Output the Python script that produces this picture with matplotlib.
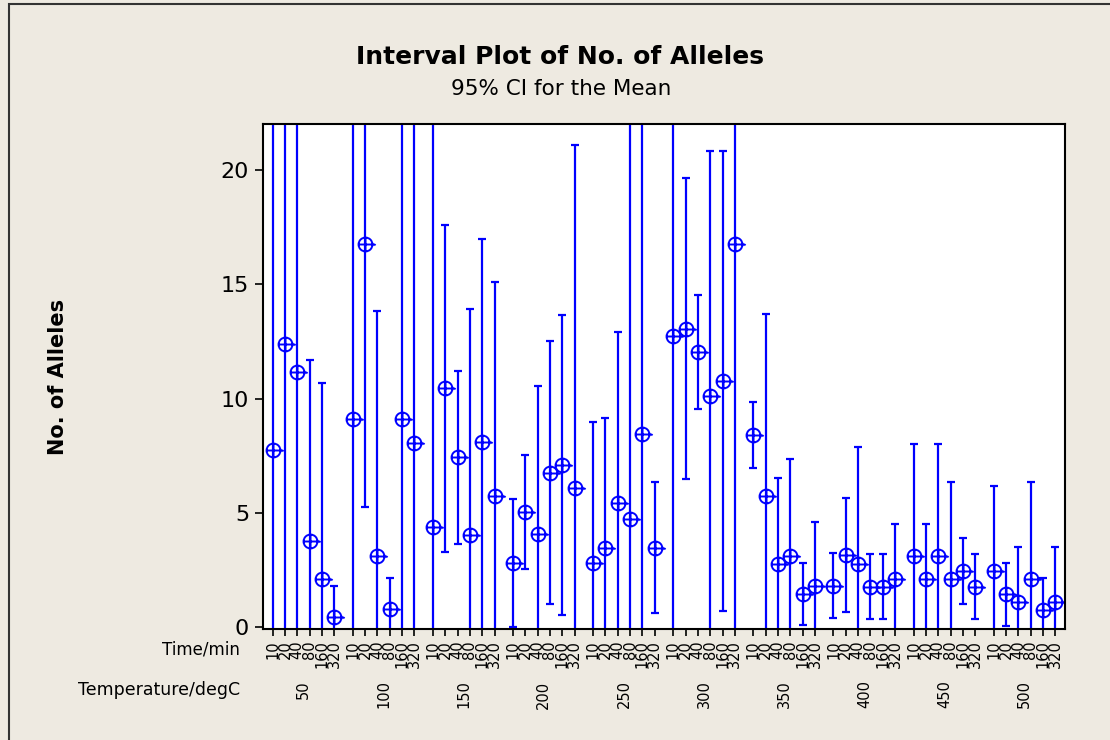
import numpy as np
import matplotlib
matplotlib.use('Agg')
import matplotlib.pyplot as plt
from matplotlib.path import Path
from matplotlib.patches import Rectangle

temperatures = [50, 100, 150, 200, 250, 300, 350, 400, 450, 500]
times = [10, 20, 40, 80, 160, 320]

# mean number of alleles, ordered by temperature then time
mean_alleles = [
    7.75, 12.39, 11.15, 3.79, 2.10, 0.44,
    9.11, 16.75, 3.13, 0.79, 9.11, 8.07,
    4.40, 10.45, 7.43, 4.04, 8.09, 5.74,
    2.80, 5.06, 4.07, 6.76, 7.10, 6.08,
    2.80, 3.48, 5.42, 4.74, 8.45, 3.48,
    12.74, 13.06, 12.05, 10.11, 10.78, 16.76,
    8.41, 5.74, 2.77, 3.12, 1.46, 1.81,
    1.81, 3.16, 2.75, 1.78, 1.78, 2.11,
    3.13, 2.11, 3.13, 2.11, 2.46, 1.78,
    2.46, 1.44, 1.09, 2.11, 0.76, 1.09,
]

# half width of the 95% CI
ci_half = [
    25, 25, 25, 7.90, 8.57, 1.38,
    25, 11.48, 10.71, 1.35, 25, 25,
    25, 7.15, 3.78, 9.89, 8.89, 9.37,
    2.80, 2.49, 6.50, 5.74, 6.57, 15.02,
    6.16, 5.66, 7.51, 25, 25, 2.86,
    25, 6.57, 2.49, 10.73, 10.06, 25,
    1.44, 7.96, 3.76, 4.25, 1.37, 2.78,
    1.42, 2.48, 5.13, 1.43, 1.43, 2.39,
    4.90, 2.39, 4.90, 4.24, 1.43, 1.43,
    3.73, 1.37, 2.41, 4.24, 1.41, 2.41,
]

blue = '#0000FF'
bg = '#EEEAE1'

# positions: 6 times per group, gap between temperature groups
group_step = 6.5
xpos = np.array([g * group_step + i for g in range(len(temperatures)) for i in range(len(times))])
time_labels = [str(t) for t in times] * len(temperatures)

# Minitab style circle-plus symbol
symbol = Path.make_compound_path(
    Path.unit_circle(),
    Path([(0, -1), (0, 1)]),
    Path([(-1, 0), (1.3, 0), (1.45, -0.12)]),
)

fig = plt.figure(figsize=(11.1, 7.4), dpi=100, facecolor=bg)
ax = fig.add_axes([263 / 1110, 1 - 629 / 740, 802 / 1110, 505 / 740])
ax.set_facecolor('white')

ax.errorbar(xpos, mean_alleles, yerr=ci_half, fmt='none', ecolor=blue,
            elinewidth=1.6, capsize=3, capthick=1.6)
ax.plot(xpos, mean_alleles, linestyle='none', marker=symbol, markersize=14.5,
        markeredgecolor=blue, markerfacecolor='none', markeredgewidth=1.4)

ax.set_xlim(-0.78, xpos[-1] + 0.78)
ax.set_ylim(-0.07, 22.0)
ax.set_yticks([0, 5, 10, 15, 20])
ax.tick_params(axis='y', labelsize=16, length=6, width=1.2, pad=4, direction='out')
ax.set_xticks(xpos)
ax.set_xticklabels(time_labels, rotation=90, fontsize=10.5)
ax.tick_params(axis='x', length=5, width=1.2, pad=3, direction='out')
for s in ax.spines.values():
    s.set_linewidth(1.5)

# temperature labels under each group
for g, temp in enumerate(temperatures):
    ax.annotate(str(temp), xy=(g * group_step + 2.5, 0), xycoords=('data', 'axes fraction'),
                xytext=(0, -37), textcoords='offset points', rotation=90,
                ha='center', va='top', fontsize=10.5)

fig.text(240 / 1110, 1 - 649 / 740, 'Time/min', ha='right', va='center', fontsize=12)
fig.text(240 / 1110, 1 - 690 / 740, 'Temperature/degC', ha='right', va='center', fontsize=12.5)

ax.set_ylabel('No. of Alleles', fontsize=15, fontweight='bold', labelpad=0)
ax.yaxis.set_label_coords(-(263 - 68) / 802, 0.5)

fig.text(560 / 1110, 1 - 57 / 740, 'Interval Plot of No. of Alleles', ha='center', va='center',
         fontsize=18, fontweight='bold')
fig.text(561 / 1110, 1 - 89 / 740, '95% CI for the Mean', ha='center', va='center', fontsize=15.5)

# outer frame
fig.patches.append(Rectangle((9 / 1110, -0.05), 1.2, 1.05 - 4 / 740, transform=fig.transFigure,
                             fill=False, edgecolor='#333333', linewidth=1.5))

fig.savefig('out.png', dpi=100, facecolor=bg)
